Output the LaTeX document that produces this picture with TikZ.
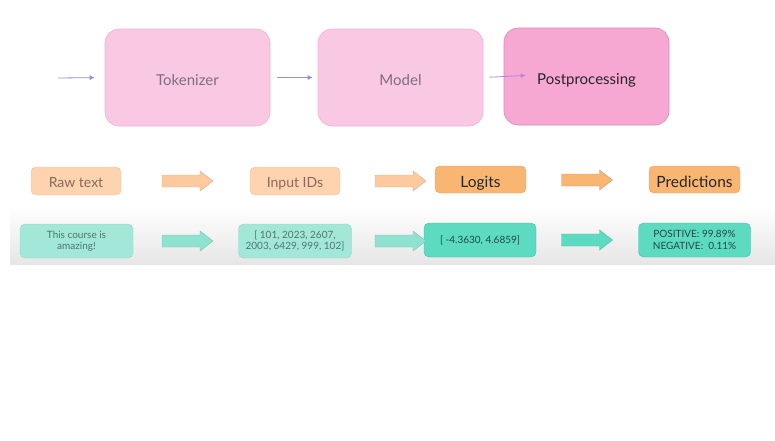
\documentclass[tikz,border=0pt]{standalone}
\usepackage{fontspec}
\setmainfont{Lato}
\usetikzlibrary{arrows.meta}
\definecolor{pinkL}{HTML}{F9C8E3}
\definecolor{pinkLd}{HTML}{EFB3D3}
\definecolor{pinkD}{HTML}{F6A7D2}
\definecolor{pinkDd}{HTML}{D98CB6}
\definecolor{lav}{HTML}{9A8CD8}
\definecolor{lav2}{HTML}{B18ADA}
\definecolor{oraL}{HTML}{FDD3B0}
\definecolor{oraLd}{HTML}{F6C29C}
\definecolor{oraA}{HTML}{FDCAA0}
\definecolor{oraD}{HTML}{F8B672}
\definecolor{oraDd}{HTML}{E8A060}
\definecolor{tealL}{HTML}{A2E7D8}
\definecolor{tealLd}{HTML}{8CD9C8}
\definecolor{tealA}{HTML}{8FE2CF}
\definecolor{tealD}{HTML}{5CDBC0}
\definecolor{tealDd}{HTML}{45C2A8}
\definecolor{band}{HTML}{E6E6E6}
\definecolor{txtPink}{HTML}{7E6E80}
\definecolor{txtOra}{HTML}{8A6A58}
\definecolor{txtTeal}{HTML}{4A7870}
\definecolor{txtTealD}{HTML}{1F4A44}
\begin{document}
\begin{tikzpicture}[x=1pt,y=-1pt,
  bigbox/.style={draw=pinkLd, fill=pinkL, rounded corners=14pt, minimum width=165pt, minimum height=97pt, font=\fontsize{15}{17}\selectfont, text=txtPink, line width=0.6pt, text height=15.8pt, text depth=0pt},
  postbox/.style={bigbox, draw=pinkDd, fill=pinkD, text=black!85},
  flow/.style={-{Latex[length=5pt,width=5pt]}, line width=0.8pt, draw=lav},
  obox/.style={draw=oraLd, fill=oraL, rounded corners=5pt, minimum width=90pt, minimum height=28pt, font=\fontsize{14}{16}\selectfont, text=txtOra, inner sep=0pt, text height=13pt, text depth=0pt},
  obox2/.style={obox, draw=oraDd, fill=oraD, text=black!85, minimum height=27pt, minimum width=91pt, font=\fontsize{15.5}{17}\selectfont, text height=16pt},
  tbox/.style={draw=tealLd, fill=tealL, rounded corners=5pt, minimum width=113pt, minimum height=34pt, font=\fontsize{10}{11.5}\selectfont, text=txtTeal, align=center, inner sep=0pt},
  tbox2/.style={tbox, draw=tealDd, fill=tealD, text=txtTealD, minimum width=112pt},
  blockarrow/.pic={\path[fill=#1, draw=#1!85!black, line width=0.4pt] (-25.5,-6) -- (12.5,-6) -- (12.5,-10) -- (25.5,0) -- (12.5,10) -- (12.5,6) -- (-25.5,6) -- cycle;},
]
\useasboundingbox (0,0) rectangle (775,440);
\shade[top color=white, bottom color=band] (10,206) rectangle (775,264);

\node[bigbox] (tok) at (187.5,77.5) {Tokenizer};
\node[bigbox] (mod) at (400.5,77.5) {Model};
\node[postbox] (post) at (586.5,76.5) {Postprocessing};
\coordinate (in) at (58,78);
\draw[flow, shorten >=10pt] (in) -- (tok.west);
\draw[flow, shorten <=7pt, shorten >=5pt] (tok.east) -- (mod.west);
\draw[flow, draw=lav2, shorten <=6pt, shorten >=-22pt] (mod.east) -- (post.west);

\node[obox] (raw) at (76,181) {Raw text};
\node[obox] (ids) at (295,181) {Input IDs};
\node[obox2] (log) at (480.5,179.5) {Logits};
\node[obox2] (pred) at (694.5,179.5) {Predictions};
\pic (a1) at (187.5,181) {blockarrow=oraA};
\pic (a2) at (400.5,181) {blockarrow=oraA};
\pic (a3) at (587,180) {blockarrow=oraD};

\node[tbox] (txt) at (76.5,241) {This course is\\amazing!};
\node[tbox] (idv) at (295,241) {[ 101, 2023, 2607,\\2003, 6429, 999, 102]};
\node[tbox2] (lgv) at (480,240) {[ -4.3630, 4.6859]};
\node[tbox2] (prv) at (694.5,240) {POSITIVE: 99.89\%\\NEGATIVE:\ \ 0.11\%};
\pic (b1) at (187.5,241) {blockarrow=tealA};
\pic (b2) at (400.5,241) {blockarrow=tealA};
\pic (b3) at (587,240) {blockarrow=tealD};
\end{tikzpicture}
\end{document}
